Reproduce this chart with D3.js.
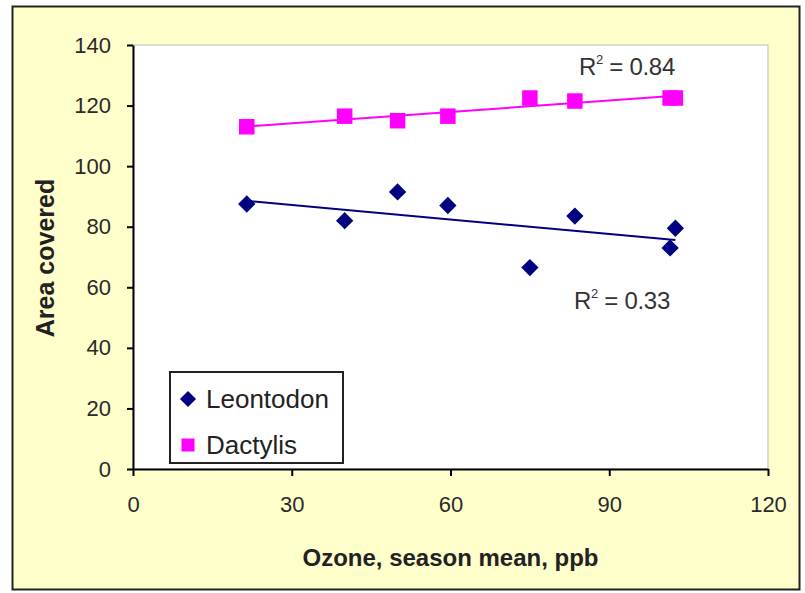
<!DOCTYPE html>
<html>
<head>
<meta charset="utf-8">
<script src="https://cdn.jsdelivr.net/npm/d3@7"></script>
<style>
  html, body { margin: 0; padding: 0; background: #fff; }
  svg text { font-family: Arial, "Liberation Sans", sans-serif; }
</style>
</head>
<body>
<svg id="chart" width="805" height="593"></svg>
<script>
// Data
const ozone = [21.5, 40, 50, 59.5, 75, 83.5, 101.5, 102.5];
const leontodon = [87.5, 82, 91.5, 87, 66.5, 83.5, 73, 79.5];
const dactylis = [113, 116.5, 115, 116.5, 122.5, 121.5, 122.5, 122.5];
const xTicks = [0, 30, 60, 90, 120];
const yTicks = [0, 20, 40, 60, 80, 100, 120, 140];
const seriesNames = ['Leontodon', 'Dactylis'];
const r2Labels = ['0.33', '0.84'];

//Helpers
const translate = (x, y) => `translate(${x}, ${y})`;

const linFit = (xs, ys) => {
    const mx = d3.mean(xs), my = d3.mean(ys);
    const sxy = d3.sum(xs, (x, i) => (x - mx) * (ys[i] - my));
    const sxx = d3.sum(xs, x => (x - mx) * (x - mx));
    const slope = sxy / sxx;
    return x => my + slope * (x - mx);
};

const width = 805, height = 593;
const margins = { top: 45, right: 37, bottom: 124, left: 133 };

const svg = d3.select('#chart');

// Outer chart area
svg.append('rect')
    .attr('x', 12.5).attr('y', 6.5)
    .attr('width', 787).attr('height', 583)
    .attr('fill', '#FFFFCC')
    .attr('stroke', '#222').attr('stroke-width', 2);

const x = d3.scaleLinear()
    .domain([0, 120])
    .range([margins.left, width - margins.right]);
const y = d3.scaleLinear()
    .domain([0, 140])
    .range([height - margins.bottom, margins.top]);

// Plot area
svg.append('rect')
    .attr('x', x(0)).attr('y', y(140))
    .attr('width', x(120) - x(0)).attr('height', y(0) - y(140))
    .attr('fill', '#fff')
    .attr('stroke', '#bbb').attr('stroke-width', 1);

// Axes
const xAxis = svg.append('g')
    .attr('transform', translate(0, y(0)))
    .call(d3.axisBottom(x).tickValues(xTicks).tickSize(7).tickSizeOuter(0).tickPadding(20));
const yAxis = svg.append('g')
    .attr('transform', translate(x(0), 0))
    .call(d3.axisLeft(y).tickValues(yTicks).tickSize(6).tickSizeOuter(0).tickPadding(16));

[xAxis, yAxis].forEach(g => {
    g.select('.domain').attr('stroke', '#000').attr('stroke-width', 2);
    g.selectAll('.tick line').attr('stroke', '#000').attr('stroke-width', 2);
    g.selectAll('.tick text')
        .attr('fill', '#2a2a2a')
        .style('font-size', '22px')
        .style('font-family', 'Arial, "Liberation Sans", sans-serif');
});

// Axis titles
svg.append('text')
    .attr('x', (x(0) + x(120)) / 2)
    .attr('y', 566)
    .attr('text-anchor', 'middle')
    .attr('font-size', 24).attr('font-weight', 'bold')
    .attr('fill', '#222')
    .text('Ozone, season mean, ppb');

svg.append('text')
    .attr('transform', translate(54, 258) + ' rotate(-90)')
    .attr('text-anchor', 'middle')
    .attr('font-size', 25).attr('font-weight', 'bold')
    .attr('fill', '#222')
    .text('Area covered');

// Series
const series = [
    { name: seriesNames[0], values: leontodon, color: '#000080', symbol: d3.symbolSquare, rot: 45, size: 150, r2: r2Labels[0] },
    { name: seriesNames[1], values: dactylis, color: '#FF00FF', symbol: d3.symbolSquare, rot: 0, size: 240, r2: r2Labels[1] },
];

const xExtent = d3.extent(ozone);

series.forEach(s => {
    const fit = linFit(ozone, s.values);
    svg.append('line')
        .attr('x1', x(xExtent[0])).attr('y1', y(fit(xExtent[0])))
        .attr('x2', x(xExtent[1])).attr('y2', y(fit(xExtent[1])))
        .attr('stroke', s.color).attr('stroke-width', 2);

    svg.append('g')
        .selectAll('path')
        .data(ozone.map((o, i) => [o, s.values[i]]))
        .join('path')
        .attr('transform', d => translate(x(d[0]), y(d[1])) + ` rotate(${s.rot})`)
        .attr('d', d3.symbol().type(s.symbol).size(s.size))
        .attr('fill', s.color);
});

// R² labels
const r2Pos = [[574, 309], [579, 75]];
series.forEach((s, i) => {
    const t = svg.append('text')
        .attr('x', r2Pos[i][0]).attr('y', r2Pos[i][1])
        .attr('font-size', 24).attr('fill', '#333')
        .attr('letter-spacing', -0.3);
    t.append('tspan').text('R');
    t.append('tspan').attr('font-size', 13).attr('dy', -11).text('2');
    t.append('tspan').attr('dy', 11).text(' = ' + s.r2);
});

// Legend
const legend = svg.append('g').attr('transform', translate(170, 372));
legend.append('rect')
    .attr('width', 173).attr('height', 91)
    .attr('fill', '#fff')
    .attr('stroke', '#222').attr('stroke-width', 2);
series.forEach((s, i) => {
    const row = legend.append('g').attr('transform', translate(0, 27 + i * 46));
    row.append('path')
        .attr('transform', translate(18, 0) + ` rotate(${s.rot})`)
        .attr('d', d3.symbol().type(s.symbol).size(s.rot ? 130 : 170))
        .attr('fill', s.color);
    row.append('text')
        .attr('x', 36).attr('y', 9)
        .attr('font-size', 26).attr('fill', '#222')
        .text(s.name);
});
</script>
</body>
</html>
